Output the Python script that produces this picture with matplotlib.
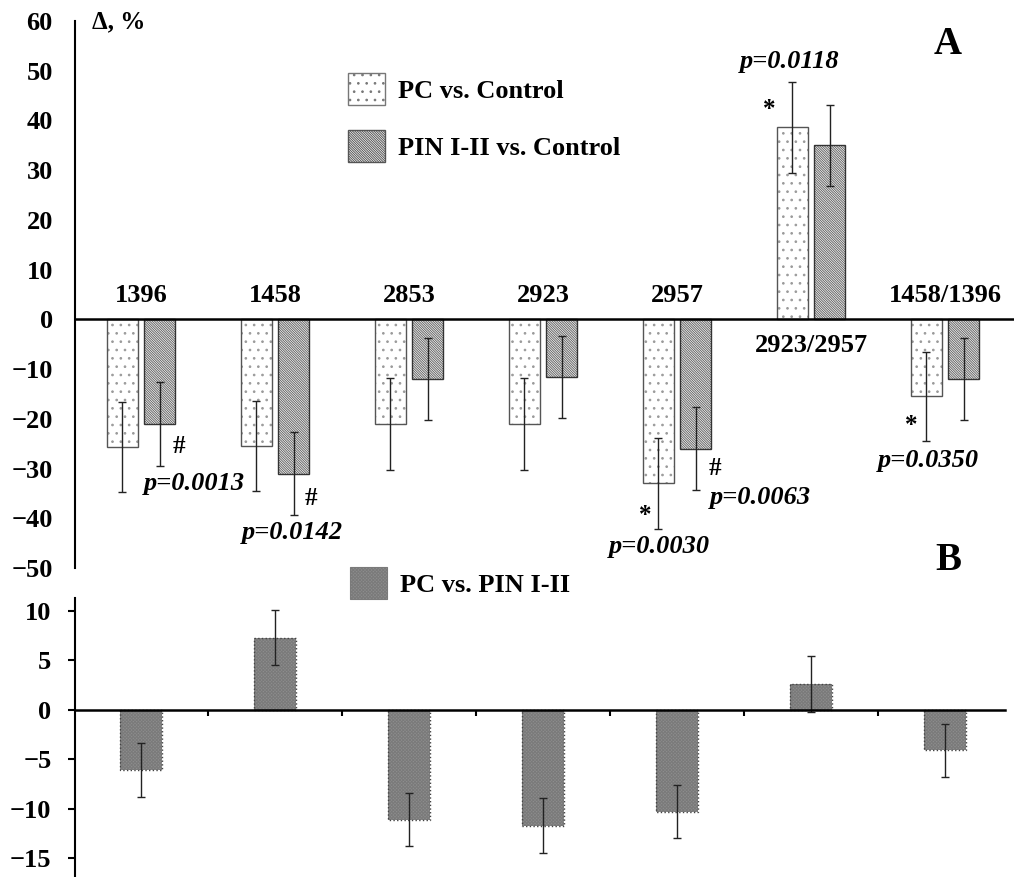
import matplotlib.pyplot as plt
import numpy as np
from matplotlib.patches import Patch

plt.rcParams['font.family'] = ['Liberation Serif', 'DejaVu Serif']
plt.rcParams['font.weight'] = 'bold'
plt.rcParams['hatch.linewidth'] = 0.7

# Panel A: changes relative to control
groups = ['1396', '1458', '2853', '2923', '2957', '2923/2957', '1458/1396']
pc_ctrl = [-25.7, -25.5, -21.0, -21.0, -33.0, 38.6, -15.5]
pc_ctrl_err = [9.0, 9.0, 9.2, 9.2, 9.2, 9.1, 9.0]
pin_ctrl = [-21.0, -31.0, -12.0, -11.6, -26.0, 35.0, -12.0]
pin_ctrl_err = [8.4, 8.3, 8.2, 8.2, 8.3, 8.2, 8.2]

# Panel B: PC vs. PIN I-II
pc_pin = [-6.1, 7.3, -11.1, -11.7, -10.3, 2.6, -4.1]
pc_pin_err = [2.7, 2.8, 2.7, 2.8, 2.7, 2.8, 2.7]

fig = plt.figure(figsize=(10.19, 8.77), dpi=100)
W, H = 1019, 877

def px_axes(x0, y0, x1, y1):
    return fig.add_axes([x0 / W, 1 - y1 / H, (x1 - x0) / W, (y1 - y0) / H])

DOTS = '..'
DIAG = '\\' * 14
GRID = 'x' * 10

x = np.arange(len(groups))

# ---------- panel A ----------
axA = px_axes(75, 21, 1014, 568)
axA.set_xlim(-0.4925, 6.515)
axA.set_ylim(-50, 60)
w = 0.23
off = 0.14
# hatch first in a light tone, then the outline on top
axA.bar(x - off, pc_ctrl, w, color='white', edgecolor='#9a9a9a', hatch=DOTS,
        linewidth=0, zorder=2)
axA.bar(x - off, pc_ctrl, w, color='none', edgecolor='#555555', linewidth=1.0, zorder=2)
axA.bar(x + off, pin_ctrl, w, color='white', edgecolor='#666666', hatch=DIAG,
        linewidth=0, zorder=2)
axA.bar(x + off, pin_ctrl, w, color='none', edgecolor='#333333', linewidth=1.0, zorder=2)
eb = dict(fmt='none', ecolor='#222222', elinewidth=1.0, capsize=3, capthick=1.0, zorder=3)
axA.errorbar(x - off, pc_ctrl, yerr=pc_ctrl_err, **eb)
axA.errorbar(x + off, pin_ctrl, yerr=pin_ctrl_err, **eb)
axA.axhline(0, color='black', lw=1.8, zorder=4)

for s in ['top', 'right', 'bottom']:
    axA.spines[s].set_visible(False)
axA.spines['left'].set_linewidth(1.5)
axA.set_xticks([])
axA.set_yticks(np.arange(-50, 61, 10))
axA.tick_params(axis='y', length=0, labelsize=19, pad=16)

lbl = dict(ha='center', va='center', fontsize=19, fontweight='bold')
for i, g in enumerate(groups):
    if pc_ctrl[i] > 0:
        axA.text(i, -5.3, g, **lbl)
    else:
        axA.text(i, 4.8, g, **lbl)

pv = dict(ha='center', va='center', fontsize=19, fontweight='bold', style='italic')
mk = dict(ha='center', va='center', fontsize=18, fontweight='bold')
axA.text(0.28, -25.6, '#', **mk)
axA.text(0.40, -33.0, 'p=0.0013', **pv)
axA.text(1.27, -36.0, '#', **mk)
axA.text(1.13, -42.8, 'p=0.0142', **pv)
axA.text(3.76, -39.5, '*', **mk)
axA.text(3.87, -45.7, 'p=0.0030', **pv)
axA.text(4.28, -29.9, '#', **mk)
axA.text(4.62, -35.8, 'p=0.0063', **pv)
axA.text(4.84, 51.9, 'p=0.0118', **pv)
axA.text(4.69, 42.3, '*', **mk)
axA.text(5.75, -21.3, '*', **mk)
axA.text(5.88, -28.3, 'p=0.0350', **pv)

fig.text(92 / W, 1 - 22 / H, 'Δ, %', ha='left', va='center', fontsize=18,
         fontweight='bold')
fig.text(948 / W, 1 - 45 / H, 'A', ha='center', va='center', fontsize=28,
         fontweight='bold')

handles = [Patch(facecolor='white', edgecolor='#777777', hatch=DOTS, lw=1.0),
           Patch(facecolor='white', edgecolor='#555555', hatch=DIAG, lw=1.0)]
axA.legend(handles, ['PC vs. Control', 'PIN I-II vs. Control'], frameon=False,
           loc='upper left', bbox_to_anchor=(324 / W, 1 - 49 / H),
           bbox_transform=fig.transFigure, prop={'size': 19, 'weight': 'bold'},
           handlelength=1.4, handleheight=1.5, labelspacing=0.95, handletextpad=0.5)

# ---------- panel B ----------
axB = px_axes(75, 598, 1014, 877)
axB.set_xlim(-0.4925, 6.515)
axB.set_ylim(-16.9, 11.3)
axB.bar(x, pc_pin, 0.31, color='#8e8e8e', edgecolor='#7a7a7a', hatch=GRID,
        linewidth=0, zorder=2)
axB.bar(x, pc_pin, 0.31, color='none', edgecolor='#444444', linewidth=1.0,
        linestyle=':', zorder=2)
axB.errorbar(x, pc_pin, yerr=pc_pin_err, **eb)

for s in ['top', 'right']:
    axB.spines[s].set_visible(False)
axB.spines['left'].set_linewidth(1.5)
axB.spines['bottom'].set_position(('data', 0))
axB.spines['bottom'].set_bounds(-0.4925, 6.448)
axB.spines['bottom'].set_linewidth(1.8)
axB.spines['bottom'].set_zorder(4)
axB.set_xticks(x[:-1] + 0.5)
axB.set_xticklabels([])
axB.tick_params(axis='x', direction='out', length=4, width=1.5)
axB.set_yticks(np.arange(-15, 11, 5))
axB.tick_params(axis='y', direction='out', length=5, width=1.5, labelsize=19, pad=12)

axB.legend([Patch(facecolor='#8e8e8e', edgecolor='#7a7a7a', hatch=GRID, lw=0.8)],
           ['PC vs. PIN I-II'], frameon=False, loc='upper left',
           bbox_to_anchor=(326 / W, 1 - 543 / H), bbox_transform=fig.transFigure,
           prop={'size': 19, 'weight': 'bold'}, handlelength=1.4, handleheight=1.5,
           handletextpad=0.5)
fig.text(948 / W, 1 - 560 / H, 'B', ha='center', va='center', fontsize=28,
         fontweight='bold')

fig.savefig('out.png', dpi=100)
